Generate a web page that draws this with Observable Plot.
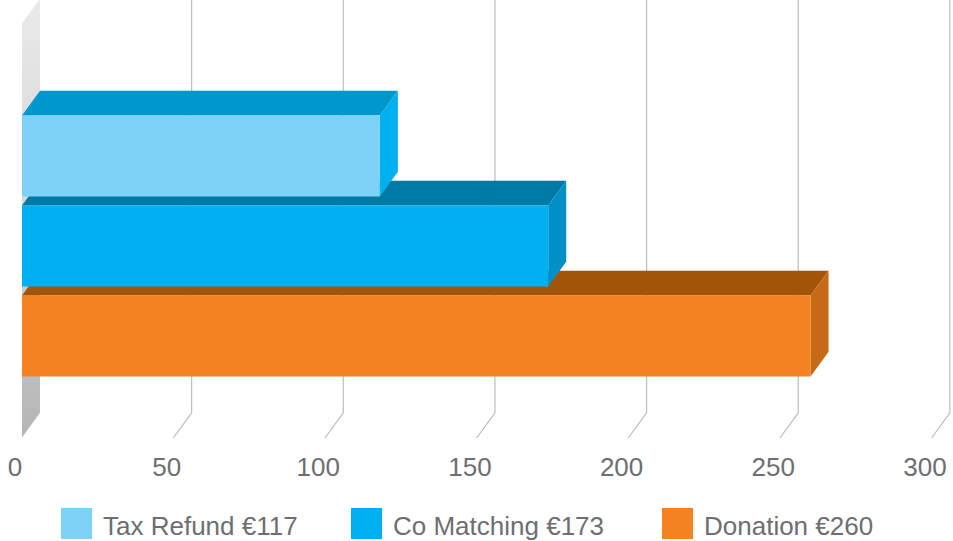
<!DOCTYPE html>
<html>
<head>
<meta charset="utf-8">
<script src="https://cdn.jsdelivr.net/npm/d3@7"></script>
<script src="https://cdn.jsdelivr.net/npm/@observablehq/plot@0.6"></script>
<style>
html,body{margin:0;padding:0;background:#fff;width:953px;height:541px;overflow:hidden}
#legend{position:relative;height:51px;font-family:"Liberation Sans",sans-serif;font-size:26px;color:#6d6e71}
#legend .sw{position:absolute;top:18px;width:31px;height:31px}
#legend .lb{position:absolute;top:18px;line-height:36px;white-space:nowrap}
</style>
</head>
<body>
<div id="chart"></div>
<div id="legend"></div>
<script>
const categories = ["Tax Refund", "Co Matching", "Donation"];
const legendAmounts = ["€117", "€173", "€260"];
const values = [118, 173.5, 260];
const rows = [2, 1, 0];
const frontColors = ["#7dd3f7", "#00b0f0", "#f58220"];
const topColors = ["#0097cc", "#0079a5", "#a25409"];
const sideColors = ["#00b0f0", "#0090c8", "#c76a18"];
const gridTicks = [50, 100, 150, 200, 250, 300];
const axisTicks = [0, 50, 100, 150, 200, 250, 300];

// Depth of the pseudo-3D box in data units
const depthX = 5.93, depthY = 0.274;
const barBase = 0.678, barHeight = 0.9, wallTop = 4.6;

const bars = [];
categories.forEach((c, i) => {
  const v = values[i], b = barBase + rows[i], t = b + barHeight;
  const add = (face, fill, pts) => pts.forEach(([x, y]) => bars.push({id: c + face, order: rows[i], x, y, fill}));
  add("top", topColors[i], [[0, t], [v, t], [v + depthX, t + depthY], [depthX, t + depthY]]);
  add("side", sideColors[i], [[v, b], [v, t], [v + depthX, t + depthY], [v + depthX, b + depthY]]);
  add("front", frontColors[i], [[0, b], [v, b], [v, t], [0, t]]);
});
bars.sort((a, b) => a.order - b.order); // stable: lowest bar drawn first

const grid = gridTicks.flatMap(v => [
  {v, x: v + depthX, y: wallTop + depthY},
  {v, x: v + depthX, y: depthY},
  {v, x: v, y: 0}
]);
const wall = [
  {x: 0, y: 0}, {x: depthX, y: depthY},
  {x: depthX, y: wallTop + depthY}, {x: 0, y: wallTop}
];

const defs = () => {
  const s = d3.create("svg:defs");
  const g = s.append("linearGradient").attr("id", "wall").attr("x1", 0).attr("x2", 0).attr("y1", 0).attr("y2", 1);
  g.append("stop").attr("offset", "0%").attr("stop-color", "#e9e9ea");
  g.append("stop").attr("offset", "50%").attr("stop-color", "#d6d6d8");
  g.append("stop").attr("offset", "100%").attr("stop-color", "#b3b4b7");
  return s.node();
};

const chart = Plot.plot({
  width: 953, height: 490,
  marginLeft: 21.5, marginRight: 21.6, marginTop: 0, marginBottom: 53,
  x: {domain: [0, 300], axis: null},
  y: {domain: [0, 437 / 90], axis: null},
  style: {background: "transparent", overflow: "visible"},
  marks: [
    defs,
    Plot.line(wall, {x: "x", y: "y", fill: "url(#wall)", stroke: "none", curve: "linear-closed"}),
    Plot.line(grid, {x: "x", y: "y", z: "v", stroke: "#bcbcbe", strokeWidth: 1.2}),
    ...d3.groups(bars, d => d.id).map(([id, pts]) =>
      Plot.line(pts, {x: "x", y: "y", fill: pts[0].fill, stroke: "none", curve: "linear-closed"})),
    Plot.axisX(axisTicks, {
      tickSize: 0, tickPadding: 20, dx: -7, fontSize: 26,
      fontFamily: "Liberation Sans, sans-serif", fill: "#6d6e71", label: null
    })
  ]
});
document.getElementById("chart").appendChild(chart);
chart.style.display = "block";

const swatchLeft = [61, 351, 662], labelLeft = [103, 393, 704];
const legend = document.getElementById("legend");
categories.forEach((c, i) => {
  const sw = document.createElement("div");
  sw.className = "sw"; sw.style.left = swatchLeft[i] + "px"; sw.style.background = frontColors[i];
  const lb = document.createElement("div");
  lb.className = "lb"; lb.style.left = labelLeft[i] + "px"; lb.textContent = c + " " + legendAmounts[i];
  legend.append(sw, lb);
});
</script>
</body>
</html>
